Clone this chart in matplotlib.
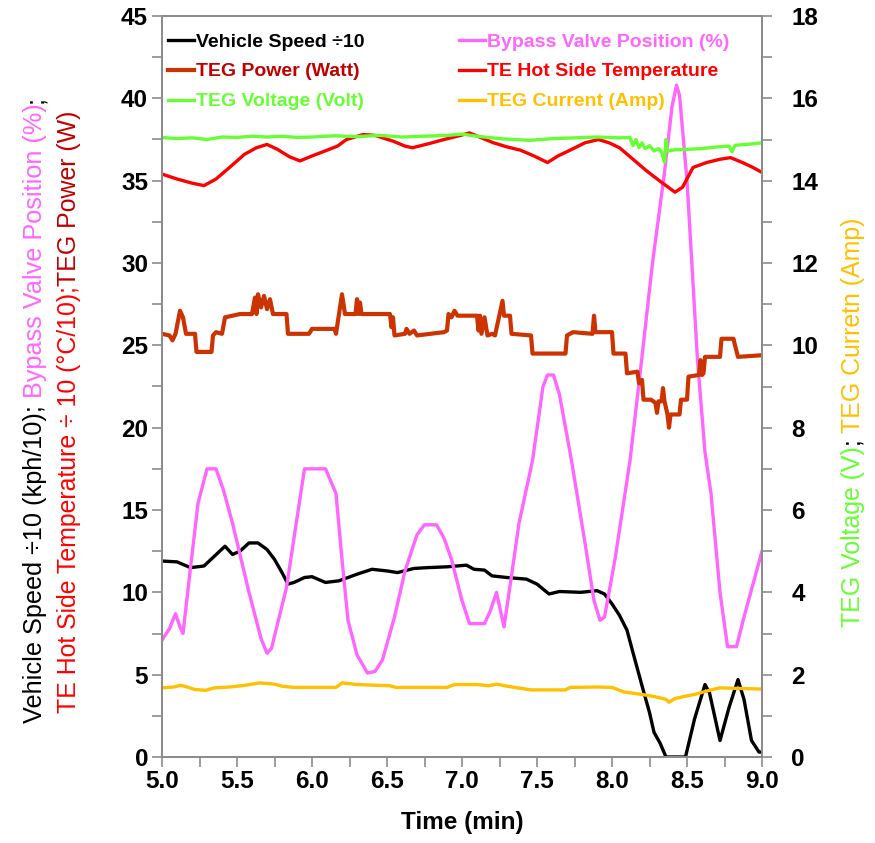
import matplotlib

matplotlib.use("Agg")
import matplotlib.pyplot as plt
from matplotlib.ticker import MultipleLocator, FormatStrFormatter

NARROW = ["Liberation Sans Narrow", "Liberation Sans", "DejaVu Sans"]
WIDE = ["Liberation Sans", "DejaVu Sans"]

# ---- data: (time [min], value) ----
SPEED = [(5.00, 11.9), (5.10, 11.85), (5.19, 11.5), (5.28, 11.6), (5.35, 12.2), (5.42, 12.8),
         (5.47, 12.3), (5.52, 12.5), (5.58, 13.0), (5.64, 13.0), (5.70, 12.6), (5.75, 12.0),
         (5.80, 11.2), (5.84, 10.5), (5.88, 10.6), (5.95, 10.9), (6.00, 10.95), (6.09, 10.6),
         (6.18, 10.7), (6.30, 11.1), (6.40, 11.4), (6.50, 11.3), (6.57, 11.2), (6.68, 11.45),
         (6.77, 11.5), (6.90, 11.55), (7.03, 11.65), (7.08, 11.4), (7.15, 11.35), (7.20, 11.0),
         (7.30, 10.9), (7.43, 10.8), (7.50, 10.5), (7.58, 9.9), (7.65, 10.05), (7.79, 10.0),
         (7.90, 10.1), (7.95, 9.9), (8.00, 9.3), (8.05, 8.6), (8.10, 7.7), (8.15, 6.0),
         (8.21, 4.0), (8.25, 2.7), (8.28, 1.5), (8.32, 0.85), (8.36, 0.0), (8.49, 0.0),
         (8.55, 2.3), (8.62, 4.4), (8.65, 3.9), (8.72, 1.0), (8.78, 3.0), (8.84, 4.7),
         (8.88, 3.5), (8.93, 1.0), (8.98, 0.3), (9.00, 0.3)]

BYPASS = [(5.00, 7.1), (5.05, 7.8), (5.09, 8.7), (5.12, 7.9), (5.14, 7.5), (5.19, 11.5),
          (5.24, 15.4), (5.30, 17.5), (5.36, 17.5), (5.41, 16.2), (5.47, 14.2), (5.58, 10.0),
          (5.66, 7.2), (5.70, 6.3), (5.73, 6.6), (5.83, 10.3), (5.90, 14.5), (5.95, 17.5),
          (6.09, 17.5), (6.16, 16.0), (6.20, 12.0), (6.24, 8.3), (6.30, 6.2), (6.37, 5.1),
          (6.42, 5.2), (6.47, 5.9), (6.55, 8.5), (6.62, 11.3), (6.70, 13.5), (6.75, 14.1),
          (6.83, 14.1), (6.88, 13.3), (6.93, 12.0), (7.00, 9.5), (7.05, 8.1), (7.15, 8.1),
          (7.19, 8.9), (7.23, 10.0), (7.28, 7.9), (7.33, 11.0), (7.38, 14.2), (7.47, 18.0),
          (7.54, 22.5), (7.57, 23.2), (7.61, 23.2), (7.65, 22.0), (7.73, 18.0), (7.82, 13.0),
          (7.88, 9.5), (7.92, 8.3), (7.95, 8.5), (8.02, 12.0), (8.12, 18.0), (8.19, 23.5),
          (8.27, 30.0), (8.35, 35.5), (8.40, 39.5), (8.43, 40.8), (8.45, 40.2), (8.50, 35.0),
          (8.57, 24.1), (8.62, 18.5), (8.66, 16.0), (8.72, 10.0), (8.77, 6.7), (8.83, 6.7),
          (8.88, 8.5), (8.94, 10.5), (9.00, 12.5)]

POWER = [(5.00, 25.7), (5.05, 25.6), (5.07, 25.3), (5.09, 25.7), (5.12, 27.1), (5.14, 26.7),
         (5.16, 25.7), (5.22, 25.7), (5.23, 24.6), (5.33, 24.6), (5.34, 25.6), (5.36, 25.8),
         (5.40, 25.7), (5.42, 26.7), (5.52, 26.9), (5.60, 26.9), (5.62, 27.9), (5.63, 26.9),
         (5.64, 28.1), (5.66, 27.3), (5.68, 28.0), (5.70, 27.2), (5.72, 27.8), (5.74, 26.9),
         (5.83, 26.9), (5.84, 25.7), (5.98, 25.7), (6.00, 26.0), (6.15, 26.0), (6.16, 25.7),
         (6.20, 28.1), (6.22, 26.9), (6.29, 26.9), (6.30, 27.8), (6.31, 26.9), (6.32, 27.6),
         (6.33, 26.9), (6.52, 26.9), (6.53, 26.1), (6.54, 26.7), (6.55, 25.6), (6.62, 25.7),
         (6.63, 26.0), (6.65, 25.7), (6.68, 25.9), (6.70, 25.6), (6.88, 25.8), (6.90, 25.9),
         (6.91, 26.9), (6.93, 26.7), (6.95, 27.1), (6.97, 26.8), (7.10, 26.8), (7.11, 25.9),
         (7.12, 26.8), (7.13, 25.7), (7.15, 26.7), (7.17, 25.6), (7.20, 25.7), (7.22, 25.6),
         (7.27, 27.7), (7.28, 26.8), (7.32, 26.8), (7.33, 25.7), (7.46, 25.6), (7.47, 24.5),
         (7.69, 24.5), (7.70, 25.6), (7.74, 25.8), (7.87, 25.7), (7.88, 26.8), (7.89, 25.8),
         (8.00, 25.8), (8.01, 24.5), (8.09, 24.5), (8.10, 23.3), (8.17, 23.4), (8.18, 22.7),
         (8.20, 22.9), (8.21, 21.7), (8.26, 21.7), (8.29, 21.5), (8.30, 20.9), (8.31, 21.6),
         (8.33, 21.6), (8.34, 22.4), (8.35, 21.6), (8.37, 20.8), (8.38, 20.0), (8.39, 20.8),
         (8.45, 20.8), (8.46, 21.7), (8.50, 21.7), (8.51, 23.1), (8.58, 23.2), (8.59, 24.1),
         (8.60, 23.2), (8.61, 23.3), (8.62, 24.3), (8.72, 24.3), (8.73, 25.4), (8.81, 25.4),
         (8.82, 25.0), (8.84, 24.3), (9.00, 24.4)]

HOT_TEMP = [(5.00, 35.4), (5.10, 35.1), (5.20, 34.85), (5.28, 34.7), (5.36, 35.1), (5.45, 35.8),
            (5.55, 36.6), (5.63, 37.0), (5.70, 37.2), (5.77, 36.9), (5.85, 36.45), (5.92, 36.2),
            (6.00, 36.5), (6.10, 36.85), (6.17, 37.1), (6.23, 37.5), (6.34, 37.8), (6.42, 37.75),
            (6.54, 37.4), (6.62, 37.1), (6.67, 37.0), (6.78, 37.25), (6.88, 37.5), (6.97, 37.7),
            (7.05, 37.9), (7.13, 37.6), (7.21, 37.3), (7.30, 37.05), (7.39, 36.85), (7.48, 36.5),
            (7.57, 36.1), (7.64, 36.5), (7.72, 36.85), (7.82, 37.3), (7.91, 37.5), (7.98, 37.3),
            (8.05, 37.0), (8.14, 36.3), (8.23, 35.6), (8.33, 34.9), (8.42, 34.3), (8.47, 34.6),
            (8.54, 35.8), (8.63, 36.1), (8.72, 36.3), (8.79, 36.4), (8.87, 36.1), (8.94, 35.8),
            (9.00, 35.5)]

VOLTAGE = [(5.00, 15.05), (5.10, 15.02), (5.20, 15.04), (5.30, 15.00), (5.40, 15.06), (5.50, 15.05),
           (5.60, 15.08), (5.70, 15.06), (5.80, 15.08), (5.90, 15.05), (6.00, 15.06), (6.15, 15.09),
           (6.30, 15.07), (6.45, 15.10), (6.60, 15.06), (6.75, 15.08), (6.90, 15.10), (7.00, 15.13),
           (7.10, 15.08), (7.25, 15.02), (7.45, 14.98), (7.60, 15.02), (7.75, 15.04), (7.90, 15.06),
           (8.05, 15.04), (8.12, 15.05), (8.14, 14.85), (8.16, 15.00), (8.18, 14.80), (8.20, 14.92),
           (8.22, 14.78), (8.25, 14.85), (8.28, 14.72), (8.31, 14.78), (8.33, 14.70), (8.35, 14.45),
           (8.36, 15.00), (8.37, 14.72), (8.42, 14.75), (8.50, 14.76), (8.60, 14.78), (8.70, 14.82),
           (8.78, 14.84), (8.80, 14.70), (8.82, 14.86), (8.90, 14.88), (9.00, 14.92)]

CURRENT = [(5.00, 1.68), (5.08, 1.70), (5.12, 1.74), (5.15, 1.72), (5.22, 1.64), (5.29, 1.62),
           (5.35, 1.68), (5.45, 1.70), (5.55, 1.74), (5.65, 1.80), (5.75, 1.77), (5.80, 1.72),
           (5.88, 1.69), (6.16, 1.69), (6.20, 1.80), (6.30, 1.76), (6.45, 1.74), (6.52, 1.73),
           (6.56, 1.69), (6.90, 1.69), (6.95, 1.76), (7.10, 1.76), (7.18, 1.73), (7.23, 1.77),
           (7.30, 1.72), (7.46, 1.63), (7.69, 1.63), (7.72, 1.69), (7.90, 1.70), (8.00, 1.69),
           (8.08, 1.58), (8.20, 1.52), (8.28, 1.47), (8.36, 1.40), (8.38, 1.33), (8.42, 1.42),
           (8.48, 1.47), (8.55, 1.52), (8.65, 1.62), (8.72, 1.68), (8.80, 1.67), (9.00, 1.65)]

# name, data, line colour, legend-text colour, line width
LEFT_SERIES = [("Vehicle Speed \u00f710", SPEED, "black", "black", 2.4),
               ("Bypass Valve Position (%)", BYPASS, "#FF66FF", "#FF66FF", 2.4),
               ("TEG Power (Watt)", POWER, "#CC3300", "#C00000", 3.0),
               ("TE Hot Side Temperature", HOT_TEMP, "#FF0000", "#FF0000", 2.4)]
RIGHT_SERIES = [("TEG Voltage (Volt)", VOLTAGE, "#66FF33", "#66FF33", 2.4),
                ("TEG Current (Amp)", CURRENT, "#FFC000", "#FFC000", 2.4)]

W, H = 875, 843
fig = plt.figure(figsize=(W / 100, H / 100), dpi=100)
ax = fig.add_axes([162 / W, 1 - 757 / H, 600 / W, 741 / H])
ax2 = ax.twinx()

lines = {}
for name, data, col, tcol, lw in LEFT_SERIES:
    t, v = zip(*data)
    lines[name] = (ax.plot(t, v, color=col, lw=lw, solid_joinstyle="round")[0], tcol)
for name, data, col, tcol, lw in RIGHT_SERIES:
    t, v = zip(*data)
    lines[name] = (ax2.plot(t, v, color=col, lw=lw, solid_joinstyle="round")[0], tcol)

ax.set_xlim(5, 9)
ax.set_ylim(0, 45)
ax2.set_ylim(0, 18)
ax.xaxis.set_major_locator(MultipleLocator(0.5))
ax.xaxis.set_minor_locator(MultipleLocator(0.25))
ax.xaxis.set_major_formatter(FormatStrFormatter("%.1f"))
ax.yaxis.set_major_locator(MultipleLocator(5))
ax.yaxis.set_minor_locator(MultipleLocator(2.5))
ax2.yaxis.set_major_locator(MultipleLocator(2))
ax2.yaxis.set_minor_locator(MultipleLocator(1))

GRAY = "#8C8C8C"
for a in (ax, ax2):
    for sp in a.spines.values():
        sp.set_color(GRAY)
        sp.set_linewidth(1.4)
    a.tick_params(which="both", direction="out", length=7, width=1.2, color=GRAY)
ax.tick_params(axis="y", pad=3)
ax.tick_params(axis="x", pad=2)
ax2.tick_params(axis="y", pad=14)

for lab in ax.get_xticklabels() + ax.get_yticklabels() + ax2.get_yticklabels():
    lab.set_family(WIDE)
    lab.set_fontweight("bold")
    lab.set_fontsize(17.5)

ax.set_xlabel("Time (min)", family=WIDE, fontweight="bold", fontsize=17.5, labelpad=13)

# legend: two separate columns so each can be placed where the original has it
LEG_COLS = [(["Vehicle Speed \u00f710", "TEG Power (Watt)", "TEG Voltage (Volt)"], 168),
            (["Bypass Valve Position (%)", "TE Hot Side Temperature", "TEG Current (Amp)"], 459)]
for names, x_px in LEG_COLS:
    leg = fig.legend([lines[k][0] for k in names], names, loc="upper left",
                     bbox_to_anchor=(x_px / W, 1 - 33 / H), frameon=False, borderpad=0,
                     borderaxespad=0, handlelength=1.35, handletextpad=0.1,
                     labelspacing=0.63, prop={"family": NARROW, "weight": "bold", "size": 14})
    for txt, k in zip(leg.get_texts(), names):
        txt.set_color(lines[k][1])

renderer = fig.canvas.get_renderer()


def text_len(s, fs):
    t = fig.text(0, 0, s + "|", fontsize=fs, family=NARROW)
    w = t.get_window_extent(renderer).width
    t.remove()
    t = fig.text(0, 0, "|", fontsize=fs, family=NARROW)
    w -= t.get_window_extent(renderer).width
    t.remove()
    return w


def vertical_label(x_px, y0_px, length_px, pieces):
    full = "".join(s for s, _ in pieces)
    fs = 16 * length_px / text_len(full, 16)
    prefix = ""
    for s, c in pieces:
        off = text_len(prefix, fs) if prefix else 0
        fig.text(x_px / W, 1 - (y0_px - off) / H, s, color=c, fontsize=fs, family=NARROW,
                 rotation=90, rotation_mode="anchor", ha="left", va="baseline")
        prefix += s


vertical_label(42, 723, 628, [("Vehicle Speed \u00f710 (kph/10); ", "black"),
                              ("Bypass Valve Position (%)", "#FF66FF"),
                              (";", "black")])
vertical_label(76, 713, 606, [("TE Hot Side Temperature \u00f7 10 (\u00b0C/10);", "#FF0000"),
                              ("TEG Power (W)", "#C00000")])
vertical_label(860, 627, 410, [("TEG Voltage (V)", "#66FF33"),
                               ("; ", "black"),
                               ("TEG Curretn (Amp)", "#FFC000")])

fig.savefig("out.png", dpi=100)
